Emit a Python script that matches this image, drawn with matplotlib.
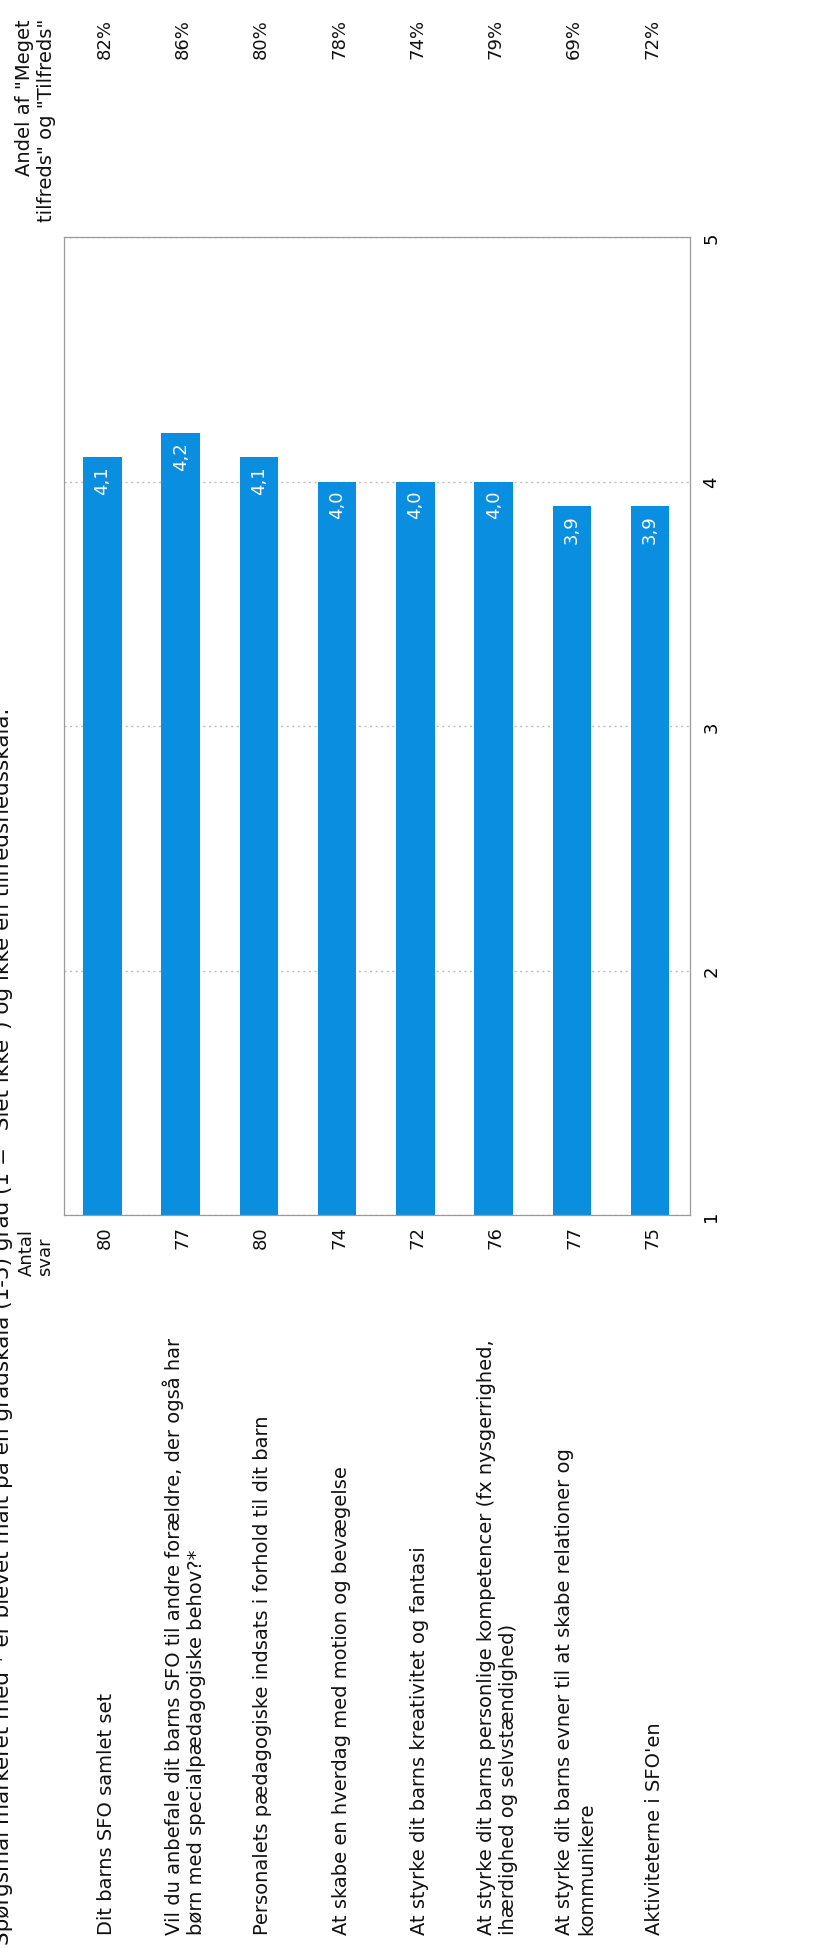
import matplotlib
matplotlib.use("Agg")
import matplotlib.pyplot as plt
import matplotlib.transforms as mtransforms

plt.rcParams['font.family'] = ['DejaVu Sans']

categories = [
    "Dit barns SFO samlet set",
    "Vil du anbefale dit barns SFO til andre forældre, der også har\nbørn med specialpædagogiske behov?*",
    "Personalets pædagogiske indsats i forhold til dit barn",
    "At skabe en hverdag med motion og bevægelse",
    "At styrke dit barns kreativitet og fantasi",
    "At styrke dit barns personlige kompetencer (fx nysgerrighed,\nihærdighed og selvstændighed)",
    "At styrke dit barns evner til at skabe relationer og\nkommunikere",
    "Aktiviteterne i SFO'en",
]
means = [4.1, 4.2, 4.1, 4.0, 4.0, 4.0, 3.9, 3.9]
n_answers = [80, 77, 80, 74, 72, 76, 77, 75]
share_satisfied = [82, 86, 80, 78, 74, 79, 69, 72]
scale_ticks = [1, 2, 3, 4, 5]
title = ('Spørgsmål markeret med * er blevet målt på en gradskala (1-5) grad '
         '(1 = "Slet ikke") og ikke en tilfredshedsskala.')
n_header = "Antal\nsvar"
pct_header = 'Andel af "Meget\ntilfreds" og "Tilfreds"'

W, H = 820, 1949
fig = plt.figure(figsize=(W / 100, H / 100), dpi=100)
fig.patch.set_facecolor("white")

def fx(px):
    return px / W

def fy(py):
    return 1 - py / H

ax_left, ax_right, ax_top, ax_bottom = 64, 690, 238, 1216
ax = fig.add_axes([fx(ax_left), fy(ax_bottom), fx(ax_right - ax_left), (ax_bottom - ax_top) / H])

bar_color = "#0A8FE0"
xs = list(range(len(categories)))
ax.bar(xs, means, width=0.49, color=bar_color, bottom=0, zorder=2)
ax.set_xlim(-0.49, len(categories) - 0.49)
ax.set_ylim(scale_ticks[0], scale_ticks[-1])
ax.set_yticks(scale_ticks)
ax.set_xticks([])
ax.yaxis.grid(True, linestyle=(0, (1.5, 2.5)), color="#bdbdbd", linewidth=1.0, zorder=1)
for s in ax.spines.values():
    s.set_color("#9a9a9a")
    s.set_linewidth(0.9)
ax.tick_params(axis="y", left=False, labelleft=False, right=False, labelright=True,
               length=0, pad=9, labelsize=13, labelrotation=90)
for lab in ax.get_yticklabels():
    lab.set_va("center")

# value labels inside bars
for x, v in zip(xs, means):
    ax.annotate(f"{v:.1f}".replace(".", ","), xy=(x, v), xytext=(0, -6),
                textcoords="offset points", rotation=90, rotation_mode="anchor",
                ha="right", va="center", color="white", fontsize=13, zorder=3)

trans = mtransforms.blended_transform_factory(ax.transData, fig.transFigure)
fs = 14

# category labels
for x, c in zip(xs, categories):
    fig.text(x + 0.05, fy(1935), c, transform=trans, rotation=90, rotation_mode="anchor",
             ha="left", va="center", multialignment="left", fontsize=fs, color="#111111")

# number of answers
for x, n in zip(xs, n_answers):
    fig.text(x + 0.03, fy(1238), str(n), transform=trans, rotation=90, rotation_mode="anchor",
             ha="center", va="center", fontsize=13, color="#111111")
fig.text(-0.85, fy(1276), n_header, transform=trans, rotation=90, rotation_mode="anchor",
         ha="left", va="center", multialignment="left", fontsize=13, linespacing=1.0,
         color="#111111")

# share satisfied
for x, p in zip(xs, share_satisfied):
    fig.text(x + 0.03, fy(19), f"{p}%", transform=trans, rotation=90, rotation_mode="anchor",
             ha="right", va="center", fontsize=13, color="#111111")
fig.text(-0.85, fy(19), pct_header, transform=trans, rotation=90, rotation_mode="anchor",
         ha="right", va="center", multialignment="right", fontsize=fs, color="#111111")

# title (partly cut by the left page edge, as in the scanned page)
fig.text(fx(9), fy(1945), title, rotation=90, rotation_mode="anchor",
         ha="left", va="baseline", fontsize=15.5, color="#111111")

fig.savefig("out.png", dpi=100)
